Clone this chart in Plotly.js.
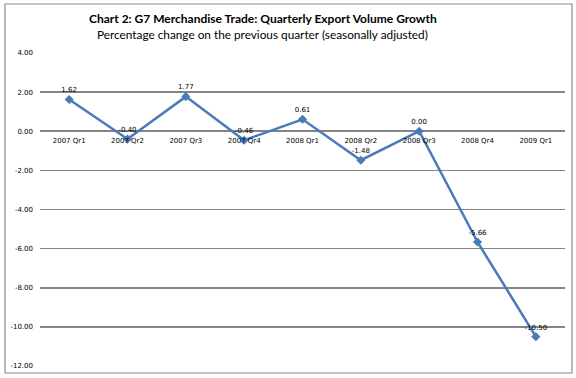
<!DOCTYPE html>
<html><head><meta charset="utf-8">
<script src="https://cdn.plot.ly/plotly-3.0.1.min.js"></script>
<style>html,body{margin:0;padding:0;background:#fff}#chart{width:576px;height:378px}</style>
</head><body><div id="chart"></div>
<script>
const quarters = ["2007 Qr1","2007 Qr2","2007 Qr3","2007 Qr4","2008 Qr1","2008 Qr2","2008 Qr3","2008 Qr4","2009 Qr1"];
const growth = [1.62,-0.40,1.77,-0.46,0.61,-1.48,0.00,-5.66,-10.50];
const yTicks = [4,2,0,-2,-4,-6,-8,-10,-12];
const yTickText = yTicks.map(v => v.toFixed(2));
const labelText = growth.map(v => v.toFixed(2));
const titleText = 'Chart 2: G7 Merchandise Trade: Quarterly Export Volume Growth';
const subtitleText = 'Percentage change on the previous quarter (seasonally adjusted)';

const trace = {
  x: quarters, y: growth, type: 'scatter', mode: 'lines+markers+text',
  text: labelText, textposition: 'top center',
  textfont: {family: 'DejaVu Sans', size: 7, color: '#000'},
  line: {color: '#4a7ab8', width: 2.5},
  marker: {symbol: 'diamond', size: 7, color: '#4a7ab8'},
  cliponaxis: false, hoverinfo: 'none'
};

const cx = (262.5-40)/525;
const layout = {
  width: 576, height: 378,
  margin: {l: 40, r: 11, t: 53, b: 12},
  paper_bgcolor: '#fff', plot_bgcolor: '#fff',
  showlegend: false,
  annotations: [
    {text: '<b>' + titleText + '</b>', xref: 'paper', yref: 'paper', x: cx, y: (366-18)/313,
     xanchor: 'center', yanchor: 'middle', showarrow: false,
     font: {family: 'Lato', size: 12, color: '#000'}},
    {text: subtitleText, xref: 'paper', yref: 'paper', x: cx, y: (366-35)/313,
     xanchor: 'center', yanchor: 'middle', showarrow: false,
     font: {family: 'Lato', size: 11.8, color: '#000'}}
  ],
  xaxis: {type: 'category', range: [-0.5, 8.5], anchor: 'free', position: 0.75,
    showline: false, showgrid: false, zeroline: false, ticks: '',
    tickfont: {family: 'DejaVu Sans', size: 7, color: '#000'}, ticklabelstandoff: 4, fixedrange: true},
  yaxis: {range: [-12, 4], tickvals: yTicks, ticktext: yTickText,
    showgrid: true, gridcolor: '#858585', gridwidth: 1.6, zeroline: false,
    showline: false, ticks: '', ticklabelstandoff: 6,
    tickfont: {family: 'DejaVu Sans', size: 7, color: '#000'}, fixedrange: true},
  shapes: [{type: 'rect', xref: 'paper', yref: 'paper',
    x0: (5-40)/525, x1: (572-40)/525, y0: (366-373)/313, y1: (366-4)/313,
    line: {color: '#8c8c8c', width: 1.2}, fillcolor: 'rgba(0,0,0,0)', layer: 'below'}]
};

Plotly.newPlot('chart', [trace], layout, {displayModeBar: false, staticPlot: true});
</script></body></html>
